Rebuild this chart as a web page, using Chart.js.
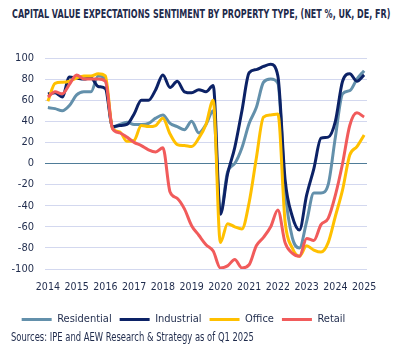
<!DOCTYPE html>
<html lang="en">
<head>
  <meta charset="UTF-8">
  <title>Capital Value Expectations Sentiment</title>
  <style>
    body {
      margin: 0;
      background: #ffffff;
      width: 404px;
      height: 354px;
      overflow: hidden;
      position: relative;
      font-family: 'Liberation Sans Narrow', 'DejaVu Sans Condensed', sans-serif;
      color: #1f2b4c;
    }
    .txt {
      position: absolute;
      display: inline-block;
      white-space: nowrap;
      transform-origin: left top;
    }
    #title {
      left: 12px;
      top: 7px;
      font-size: 12px;
      font-weight: bold;
    }
    #source {
      left: 11px;
      top: 330px;
      font-size: 12px;
    }
    #wrap {
      position: absolute;
      left: 0;
      top: 40px;
      width: 404px;
      height: 295px;
    }
  </style>
</head>
<body>
  <div id="title" class="txt">CAPITAL VALUE EXPECTATIONS SENTIMENT BY PROPERTY TYPE, (NET %, UK, DE, FR)</div>
  <div id="wrap"><canvas id="chart"></canvas></div>
  <div id="source" class="txt">Sources: IPE and AEW Research &amp; Strategy as of Q1 2025</div>

  <script src="https://cdn.jsdelivr.net/npm/chart.js"></script>
  <script>
    // quarterly readings, 2014 Q1 .. 2025 Q1
    const years = [2014, 2015, 2016, 2017, 2018, 2019, 2020, 2021, 2022, 2023, 2024, 2025];
    const seriesNames = ['Residential', 'Industrial', 'Office', 'Retail'];
    const residential = [53, 52, 50, 55, 65, 68, 68, 83, 79, 34, 37, 39, 37, 37, 38, 43, 46, 38, 35, 32, 40, 29, 37, 50, -47, -8, 0, 15, 38, 53, 77, 80, 76, -25, -70, -80, -55, -28, -28, -20, 25, 66, 69, 80, 88];
    const industrial = [66, 67, 63, 82, 81, 80, 81, 73, 71, 35, 36, 37, 47, 60, 60, 70, 84, 72, 78, 68, 67, 70, 68, 74, -48, -10, 15, 50, 86, 89, 92, 94, 83, -15, -50, -63, -30, -5, 24, 25, 40, 78, 85, 78, 84];
    const office = [59, 76, 77, 78, 81, 83, 83, 85, 83, 33, 30, 21, 22, 36, 35, 36, 43, 28, 18, 17, 16, 24, 37, 60, -75, -57, -60, -62, -37, 5, 44, 46, 47, -55, -80, -88, -78, -82, -84, -75, -50, -25, 8, 16, 27];
    const retail = [63, 68, 66, 75, 84, 80, 80, 80, 78, 33, 29, 25, 20, 17, 13, 11, 15, -27, -33, -43, -59, -68, -77, -83, -99, -97, -91, -99, -96, -78, -70, -60, -44, -75, -85, -88, -71, -73, -58, -52, -30, 0, 36, 48, 44];
    const colors = ['#6390ab', '#0c2266', '#ffc000', '#f15b5b'];

    const textColor = '#1f2b4c';
    const fontFamily = "'Liberation Sans Narrow', 'DejaVu Sans Condensed', sans-serif";

    // stretch the html text to the width it takes in the picture
    function fit(id, w) {
      const el = document.getElementById(id);
      el.style.transform = 'scaleX(' + (w / el.scrollWidth) + ')';
    }
    fit('title', 378);
    fit('source', 243);

    const toPoints = arr => arr.map((v, i) => ({ x: years[0] + i / 4, y: v }));
    const allSeries = [residential, industrial, office, retail];

    const datasets = allSeries.map((arr, k) => ({
      label: seriesNames[k],
      data: toPoints(arr),
      borderColor: colors[k],
      backgroundColor: colors[k],
      borderWidth: 3,
      pointRadius: 0,
      cubicInterpolationMode: 'monotone',
      fill: false,
      order: 3 - k
    }));

    new Chart(document.getElementById('chart'), {
      type: 'line',
      data: { datasets: datasets },
      options: {
        responsive: true,
        maintainAspectRatio: false,
        animation: false,
        layout: { padding: { top: 18, right: 37, left: 0, bottom: 0 } },
        scales: {
          x: {
            type: 'linear',
            min: 2013.9,
            max: 2025.1,
            afterFit: s => { s.height = 37; },
            grid: { display: false },
            border: { display: false },
            afterBuildTicks: axis => { axis.ticks = years.map(v => ({ value: v })); },
            ticks: {
              autoSkip: false,
              maxRotation: 0,
              padding: 4,
              color: textColor,
              font: { family: fontFamily, size: 10.5 },
              callback: v => String(v)
            }
          },
          y: {
            min: -100,
            max: 100,
            afterFit: s => { s.width = 45; },
            grid: {
              drawTicks: false,
              color: ctx => ctx.tick && ctx.tick.value === 0 ? '#4f7c98' : '#d3d8ef',
              lineWidth: 1
            },
            border: { display: false },
            ticks: {
              stepSize: 20,
              autoSkip: false,
              padding: 11,
              color: textColor,
              font: { family: fontFamily, size: 11 }
            }
          }
        },
        plugins: {
          legend: {
            position: 'bottom',
            labels: {
              usePointStyle: true,
              pointStyle: 'line',
              pointStyleWidth: 30,
              boxHeight: 11,
              padding: 8,
              color: textColor,
              font: { family: fontFamily, size: 11 },
              sort: (a, b) => a.datasetIndex - b.datasetIndex
            }
          },
          tooltip: { enabled: false }
        }
      }
    });
  </script>
</body>
</html>
